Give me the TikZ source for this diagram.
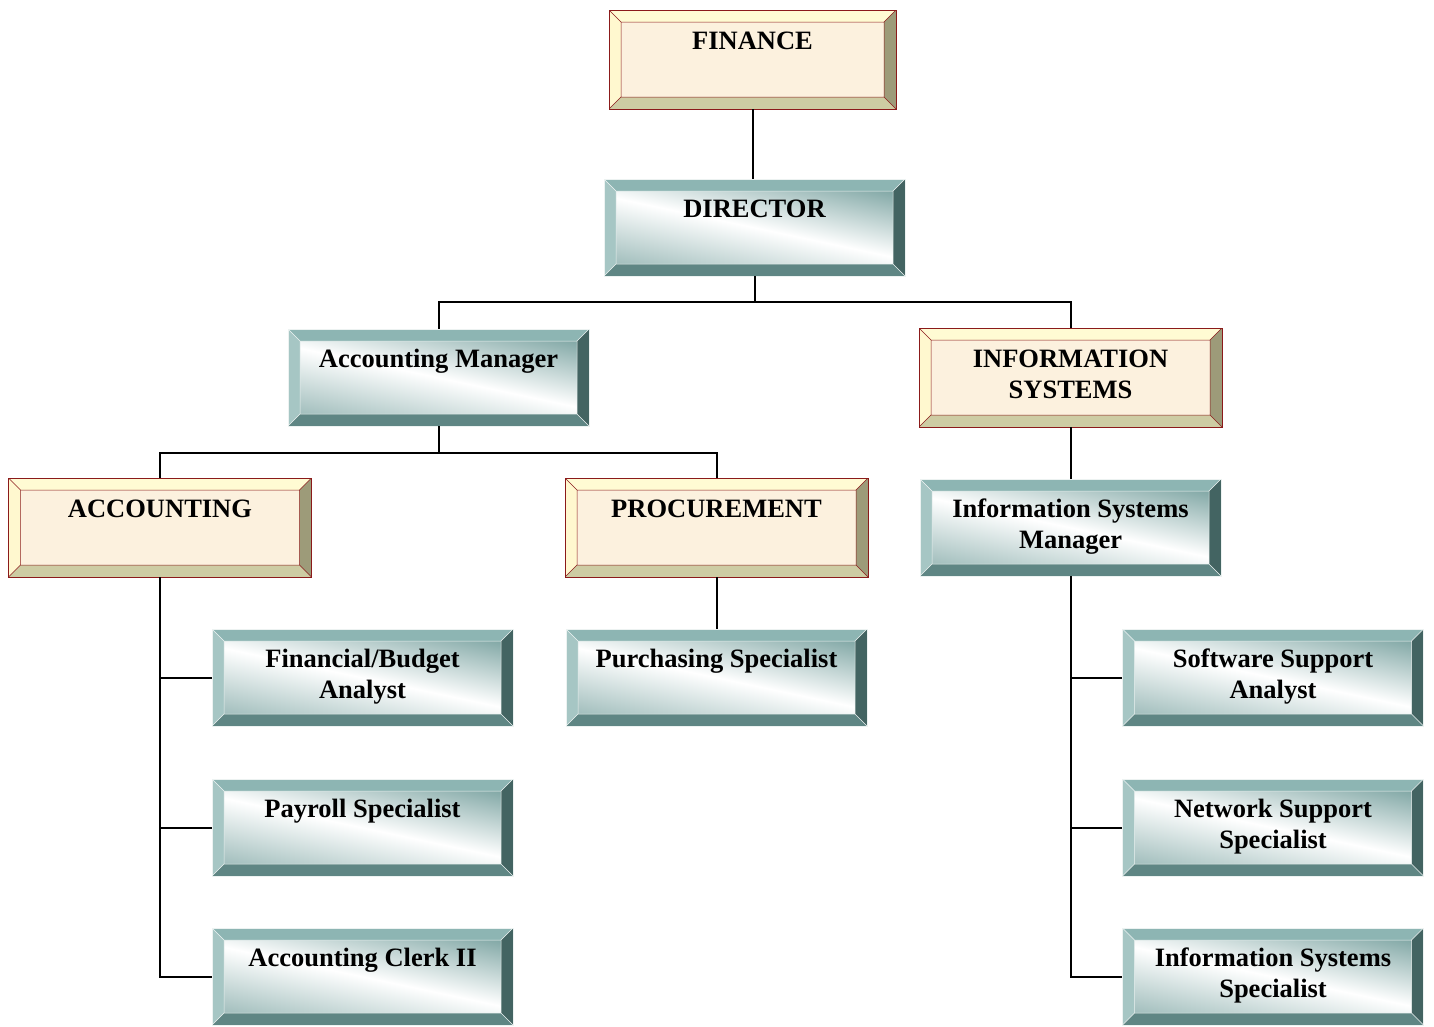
\documentclass[tikz,border=0pt]{standalone}
\usepackage{fontspec}
\setmainfont{Liberation Serif}
\definecolor{tanface}{HTML}{FCF1DE}
\definecolor{tantop}{HTML}{FFFBD3}
\definecolor{tanleft}{HTML}{FFF8CF}
\definecolor{tanbot}{HTML}{CDCCA3}
\definecolor{tanright}{HTML}{9D9B79}
\definecolor{tanedge}{HTML}{8B1A1A}
\definecolor{tealtop}{HTML}{8DB5B3}
\definecolor{tealleft}{HTML}{A6C6C4}
\definecolor{tealbot}{HTML}{5F8684}
\definecolor{tealright}{HTML}{436462}
\definecolor{tealface}{HTML}{7FA6A4}
\newcommand{\boxfont}{\fontsize{26.5}{31}\selectfont\bfseries}
\newcommand{\boxtext}[1]{\parbox[c][95pt][t]{270pt}{\centering\rule{0pt}{37pt}#1}}
\newcommand{\pp}{path picture bounding box}
\tikzset{
    link/.style={black,line width=2pt},
    bevel/.style n args={6}{rectangle,inner sep=0pt,font=\boxfont,draw=#5,line width=0.8pt,
        path picture={
            \path[#6] ([shift={(12pt,-12pt)}]\pp.north west) rectangle ([shift={(-12pt,12pt)}]\pp.south east);
            \fill[#1] (\pp.north west)--(\pp.north east)--([shift={(-12pt,-12pt)}]\pp.north east)--([shift={(12pt,-12pt)}]\pp.north west)--cycle;
            \fill[#2] (\pp.north west)--([shift={(12pt,-12pt)}]\pp.north west)--([shift={(12pt,12pt)}]\pp.south west)--(\pp.south west)--cycle;
            \fill[#3] (\pp.south west)--([shift={(12pt,12pt)}]\pp.south west)--([shift={(-12pt,12pt)}]\pp.south east)--(\pp.south east)--cycle;
            \fill[#4] (\pp.south east)--([shift={(-12pt,12pt)}]\pp.south east)--([shift={(-12pt,-12pt)}]\pp.north east)--(\pp.north east)--cycle;
            \draw[#5,line width=0.5pt] ([shift={(12pt,-12pt)}]\pp.north west) rectangle ([shift={(-12pt,12pt)}]\pp.south east)
                (\pp.north west)--([shift={(12pt,-12pt)}]\pp.north west)
                (\pp.north east)--([shift={(-12pt,-12pt)}]\pp.north east)
                (\pp.south west)--([shift={(12pt,12pt)}]\pp.south west)
                (\pp.south east)--([shift={(-12pt,12pt)}]\pp.south east);
        }},
    tanfill/.style={fill=tanface},
    tealfill/.style={left color=tealface,right color=tealface!75,middle color=white,shading angle=-12},
    tanbox/.style={bevel={tantop}{tanleft}{tanbot}{tanright}{tanedge}{tanfill},minimum width=303pt,minimum height=99pt},
    tealbox/.style={bevel={tealtop}{tealleft}{tealbot}{tealright}{white!85!tealface}{tealfill},minimum width=301pt,minimum height=97pt}
}
\begin{document}
\begin{tikzpicture}[x=1pt,y=-1pt]
\useasboundingbox (0,0) rectangle (1434,1026);
% top of the chart
\node[tanbox,minimum width=287pt] (fin) at (752.5,59.5) {\boxtext{FINANCE}};
\node[tealbox] (dir) at (754.5,227.5) {\boxtext{DIRECTOR}};
% second level
\node[tealbox] (acm) at (438.5,377.5) {\boxtext{Accounting Manager}};
\node[tanbox] (infsys) at (1070.5,377.5) {\boxtext{INFORMATION\\SYSTEMS}};
% units
\node[tanbox] (acc) at (160,527.5) {\boxtext{ACCOUNTING}};
\node[tanbox] (proc) at (716.5,527.5) {\boxtext{PROCUREMENT}};
\node[tealbox] (ism) at (1070.5,527.5) {\boxtext{Information Systems\\Manager}};
% staff
\node[tealbox] (fba) at (362.5,677.5) {\boxtext{Financial/Budget\\Analyst}};
\node[tealbox] (pay) at (362.5,827.5) {\boxtext{Payroll Specialist}};
\node[tealbox] (clerk) at (362.5,976.5) {\boxtext{Accounting Clerk II}};
\node[tealbox] (purch) at (716.5,677.5) {\boxtext{Purchasing Specialist}};
\node[tealbox] (ssa) at (1273,677.5) {\boxtext{Software Support\\Analyst}};
\node[tealbox] (nss) at (1273,827.5) {\boxtext{Network Support\\Specialist}};
\node[tealbox] (iss) at (1273,976.5) {\boxtext{Information Systems\\Specialist}};

\draw[link] (fin.south) -- (fin.south |- dir.north);
\draw[link] (dir.south) -- +(0,26) -| (acm.north);
\draw[link] (dir.south) -- +(0,26) -| (infsys.north);
\draw[link] (acm.south) -- +(0,27) -| (acc.north);
\draw[link] (acm.south) -- +(0,27) -| (proc.north);
\draw[link] (infsys.south) -- (ism.north);
\draw[link] (proc.south) -- (purch.north);
\foreach \s in {fba,pay,clerk}
    \draw[link] (acc.south) |- (\s.west);
\foreach \s in {ssa,nss,iss}
    \draw[link] (ism.south) |- (\s.west);
\end{tikzpicture}
\end{document}
